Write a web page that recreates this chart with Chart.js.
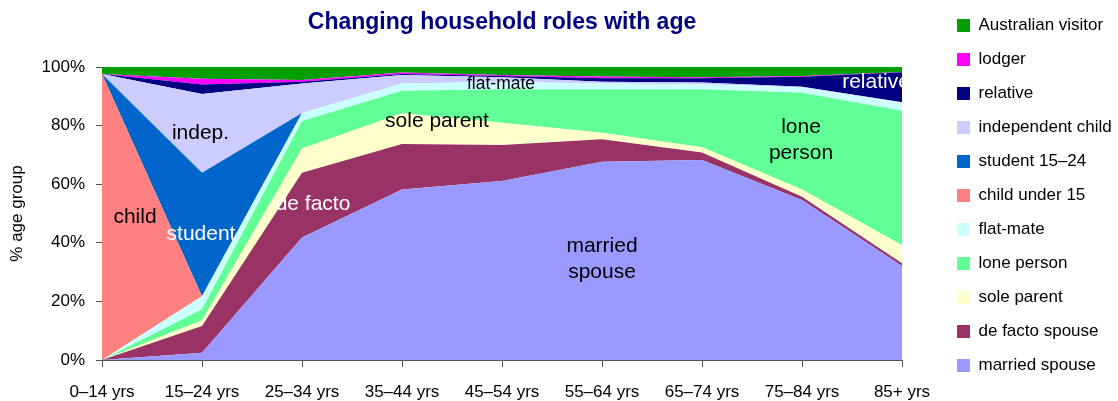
<!DOCTYPE html>
<html>
<head>
<meta charset="utf-8">
<title>Changing household roles with age</title>
<script src="https://cdn.jsdelivr.net/npm/chart.js@4"></script>
<style>
  html, body { margin: 0; padding: 0; background: #fff; }
  #wrap { width: 1118px; height: 401px; }
</style>
</head>
<body>
<div id="wrap"><canvas id="roles-chart" width="1118" height="401"></canvas></div>
<script>
// Age groups along the x axis
const ageGroups = ['0–14 yrs', '15–24 yrs', '25–34 yrs', '35–44 yrs', '45–54 yrs', '55–64 yrs', '65–74 yrs', '75–84 yrs', '85+ yrs'];

// Share of each age group (%), bottom layer first
const marriedSpouse     = [0,    2.5, 41.8, 58.2, 61.1, 67.7, 68.3, 54.6, 32.1];
const deFactoSpouse     = [0,    9.1, 22.1, 15.5, 12.3,  7.6,  2.5,  1.1,  0.9];
const soleParent        = [0,    2.0,  8.3, 10.5,  7.6,  2.3,  1.8,  2.5,  6.2];
const lonePerson        = [0,    3.7,  9.4,  7.7, 11.4, 14.8, 19.8, 33.0, 45.9];
const flatMate          = [0,    4.5,  2.7,  2.5,  2.6,  2.0,  1.7,  1.8,  2.7];
const childUnder15      = [97.6, 0,    0,    0,    0,    0,    0,    0,    0];
const student1524       = [0,   42.1,  0,    0,    0,    0,    0,    0,    0];
const independentChild  = [0,   26.9, 10.1,  2.9,  1.5,  0.6,  0.6,  0.3,  0.2];
const relative          = [0,    3.2,  0.6,  0.3,  0.4,  1.2,  1.5,  3.4, 10.2];
const lodger            = [0,    2.0,  0.6,  0.5,  0.4,  0.6,  0.3,  0.2,  0.1];
const australianVisitor = [2.4,  4.0,  4.4,  1.9,  2.7,  3.2,  3.5,  3.1,  1.7];

const yTicks = [0, 20, 40, 60, 80, 100];

// Layers: name, values, fill colour
const layers = [
    { name: 'married spouse',     data: marriedSpouse,     color: '#9999FF' },
    { name: 'de facto spouse',    data: deFactoSpouse,     color: '#993366' },
    { name: 'sole parent',        data: soleParent,        color: '#FFFFCC' },
    { name: 'lone person',        data: lonePerson,        color: '#62FF97' },
    { name: 'flat-mate',          data: flatMate,          color: '#CCFFFF' },
    { name: 'child under 15',     data: childUnder15,      color: '#FF8080' },
    { name: 'student 15–24',      data: student1524,       color: '#0066CC' },
    { name: 'independent child',  data: independentChild,  color: '#CCCCFF' },
    { name: 'relative',           data: relative,          color: '#000080' },
    { name: 'lodger',             data: lodger,            color: '#FF00FF' },
    { name: 'Australian visitor', data: australianVisitor, color: '#00A000' }
];

// Text written inside the areas (x = category index, y = %)
const areaLabels = [
    { lines: ['child'],             at: 0.33,  pct: 48.9, color: '#000' },
    { lines: ['indep.'],            at: 0.985, pct: 77.5, color: '#000' },
    { lines: ['student'],           at: 0.99,  pct: 43.0, color: '#fff' },
    { lines: ['de facto'],          at: 2.11,  pct: 53.2, color: '#fff' },
    { lines: ['sole parent'],       at: 3.35,  pct: 81.6, color: '#000' },
    { lines: ['flat-mate'],         at: 3.99,  pct: 94.3, color: '#000', size: 17.5 },
    { lines: ['married', 'spouse'], at: 5.0,   pct: 34.5, color: '#000' },
    { lines: ['lone', 'person'],    at: 6.99,  pct: 75.1, color: '#000' },
    { lines: ['relative'],          at: 7.74,  pct: 94.7, color: '#fff' }
];

const FONT = "'Liberation Sans', Arial, Helvetica, sans-serif";
Chart.defaults.font.family = FONT;
Chart.defaults.color = '#000';

const areaLabelPlugin = {
    id: 'areaLabels',
    afterDatasetsDraw(chart) {
        const { ctx, chartArea, scales } = chart;
        ctx.save();
        ctx.beginPath();
        ctx.rect(chartArea.left, chartArea.top, chartArea.width, chartArea.height);
        ctx.clip();
        ctx.textAlign = 'center';
        ctx.textBaseline = 'middle';
        areaLabels.forEach(l => {
            ctx.font = `${l.size || 21}px ${FONT}`;
            ctx.fillStyle = l.color;
            const cx = scales.x.getPixelForValue(l.at);
            const cy = scales.y.getPixelForValue(l.pct);
            l.lines.forEach((t, i) => {
                ctx.fillText(t, cx, cy + (i - (l.lines.length - 1) / 2) * 26);
            });
        });
        ctx.restore();
    }
};

new Chart(document.getElementById('roles-chart'), {
    type: 'line',
    data: {
        labels: ageGroups,
        datasets: layers.map((s, i) => ({
            label: s.name,
            data: s.data,
            backgroundColor: s.color,
            borderColor: s.color,
            borderWidth: 0,
            fill: i === 0 ? 'origin' : '-1',
            pointRadius: 0,
            pointHoverRadius: 0,
            tension: 0
        }))
    },
    options: {
        responsive: false,
        animation: false,
        devicePixelRatio: 1,
        layout: { padding: 0 },
        plugins: {
            title: {
                display: true,
                text: 'Changing household roles with age',
                color: '#000080',
                fullSize: false,
                font: { size: 23, weight: 'bold' },
                padding: { top: 8.5, bottom: 30.9 }
            },
            legend: {
                position: 'right',
                align: 'start',
                reverse: true,
                maxWidth: 178,
                labels: {
                    boxWidth: 13,
                    boxHeight: 13,
                    padding: 17,
                    color: '#000',
                    font: { size: 17 }
                }
            },
            tooltip: { enabled: false }
        },
        scales: {
            x: {
                offset: false,
                grid: { drawOnChartArea: false, tickLength: 7, color: '#555' },
                border: { color: '#555' },
                ticks: { color: '#000', font: { size: 17 }, padding: 15, maxRotation: 0, autoSkip: false },
                afterFit: s => { s.height = 41; }
            },
            y: {
                stacked: true,
                min: 0,
                max: 100,
                afterBuildTicks: s => { s.ticks = yTicks.map(v => ({ value: v })); },
                grid: { drawOnChartArea: false, tickLength: 6, color: '#555' },
                border: { color: '#555' },
                ticks: { color: '#000', font: { size: 17 }, padding: 11, callback: v => v + '%' },
                title: { display: true, text: '% age group', color: '#000', font: { size: 17 }, padding: { top: 7, bottom: 0 } },
                afterFit: s => { s.width = 102; }
            },
            // empty gap between plot and legend
            yGap: {
                type: 'linear',
                position: 'right',
                display: true,
                grid: { display: false },
                ticks: { display: false },
                border: { display: false },
                afterFit: s => { s.width = 38; }
            }
        }
    },
    plugins: [areaLabelPlugin]
});
</script>
</body>
</html>
